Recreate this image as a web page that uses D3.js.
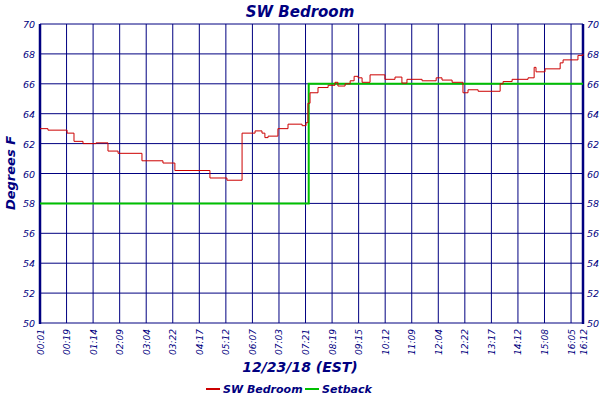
<!DOCTYPE html>
<html><head><meta charset="utf-8">
<script src="https://cdn.jsdelivr.net/npm/d3@7"></script>
<style>body{margin:0;background:#fff}</style></head>
<body><svg id="c" width="600" height="400"></svg>
<script>
const xTickLabels=["00:01","00:19","01:14","02:09","03:04","03:22","04:17","05:12","06:07","07:03","07:21","08:19","09:15","10:12","11:09","12:04","12:22","13:17","14:12","15:08","16:05","16:12"];
const xTickPos=[0,1,2,3,4,5,6,7,8,9,10,11,12,13,14,15,16,17,18,19,20,20.45];
const yTicks=[50,52,54,56,58,60,62,64,66,68,70];
// x in tick-slot units, y in degrees F
const bedroomX=[0,0.30,1.02,1.28,1.62,2.11,2.56,2.94,3.84,4.63,5.08,6.40,7.04,7.61,8.10,8.36,8.47,8.59,8.96,9.34,9.87,10.02,10.09,10.17,10.47,10.85,11.11,11.22,11.49,11.68,11.83,11.98,12.13,12.43,12.99,13.37,13.63,13.82,14.39,14.92,15.14,15.52,15.93,16.12,16.50,17.33,17.44,17.78,18.38,18.61,18.68,19.02,19.59,19.70,20.26,20.45];
const bedroomY=[63.0,62.9,62.7,62.15,62.0,62.05,61.5,61.35,60.85,60.7,60.2,59.7,59.55,62.7,62.85,62.7,62.4,62.5,63.0,63.3,63.2,63.4,64.7,65.4,65.75,65.9,66.1,65.85,66.0,66.2,66.5,66.4,66.1,66.6,66.3,66.45,66.05,66.3,66.2,66.4,66.25,66.1,65.4,65.6,65.5,66.0,66.15,66.3,66.4,67.1,66.8,67.0,67.4,67.6,67.9,68.0];
const setbackX=[0,10.12,20.45];
const setbackY=[58,66,66];

const navy="#000080";
const svg=d3.select("#c");
const L=40,R=583,T=24,B=323;
const x=d3.scaleLinear().domain([0,20.45]).range([L,R]);
const y=d3.scaleLinear().domain([50,70]).range([B,T]);
const font="DejaVu Sans";

svg.append("g").selectAll("line").data(xTickPos).join("line")
 .attr("x1",d=>x(d)).attr("x2",d=>x(d)).attr("y1",T).attr("y2",B).attr("stroke",navy).attr("stroke-width",1);
svg.append("g").selectAll("line").data(yTicks).join("line")
 .attr("x1",L).attr("x2",R).attr("y1",d=>y(d)).attr("y2",d=>y(d)).attr("stroke",navy).attr("stroke-width",1);
svg.append("line").attr("x1",L).attr("x2",L).attr("y1",T).attr("y2",B+1).attr("stroke",navy).attr("stroke-width",2.5);
svg.append("line").attr("x1",R).attr("x2",R).attr("y1",T).attr("y2",B+1).attr("stroke",navy).attr("stroke-width",2.5);

const yl=svg.append("g").attr("font-family",font).attr("font-style","italic").attr("font-size",9.5).attr("fill",navy);
yl.selectAll("text.l").data(yTicks).join("text").attr("class","l").attr("x",L-5).attr("y",d=>y(d)+4).attr("text-anchor","end").text(d=>d);
yl.selectAll("text.r").data(yTicks).join("text").attr("class","r").attr("x",R+4).attr("y",d=>y(d)+4).text(d=>d);
svg.append("g").selectAll("text").data(xTickLabels).join("text")
 .attr("font-family",font).attr("font-style","italic").attr("font-size",9).attr("fill",navy)
 .attr("text-anchor","end")
 .attr("transform",(d,i)=>`translate(${x(xTickPos[i])+3.5},${B+6}) rotate(-90)`).text(d=>d);

const line=d3.line().x(d=>x(d[0])).y(d=>y(d[1])).curve(d3.curveStepAfter);
svg.append("path").datum(setbackX.map((v,i)=>[v,setbackY[i]])).attr("d",line).attr("fill","none").attr("stroke","#00c000").attr("stroke-width",2);
svg.append("path").datum(bedroomX.map((v,i)=>[v,bedroomY[i]])).attr("d",line).attr("fill","none").attr("stroke","#cc0000").attr("stroke-width",1);

const tt=(t,xx,yy,s)=>svg.append("text").attr("x",xx).attr("y",yy).attr("font-family",font).attr("font-style","italic").attr("font-weight","bold").attr("font-size",s).attr("fill",navy).attr("text-anchor","middle").text(t);
tt("SW Bedroom",300,17,15);
tt("12/23/18 (EST)",300,372,14);
tt("Degrees F",0,0,13).attr("transform","translate(15,173) rotate(-90)");

const lg=[["SW Bedroom","#cc0000",206],["Setback","#00c000",305]];
lg.forEach(([t,c,lx])=>{
 svg.append("line").attr("x1",lx).attr("x2",lx+14).attr("y1",389).attr("y2",389).attr("stroke",c).attr("stroke-width",2);
 svg.append("text").attr("x",lx+17).attr("y",393).attr("font-family",font).attr("font-style","italic").attr("font-weight","bold").attr("font-size",11).attr("fill",navy).text(t);
});
</script></body></html>
